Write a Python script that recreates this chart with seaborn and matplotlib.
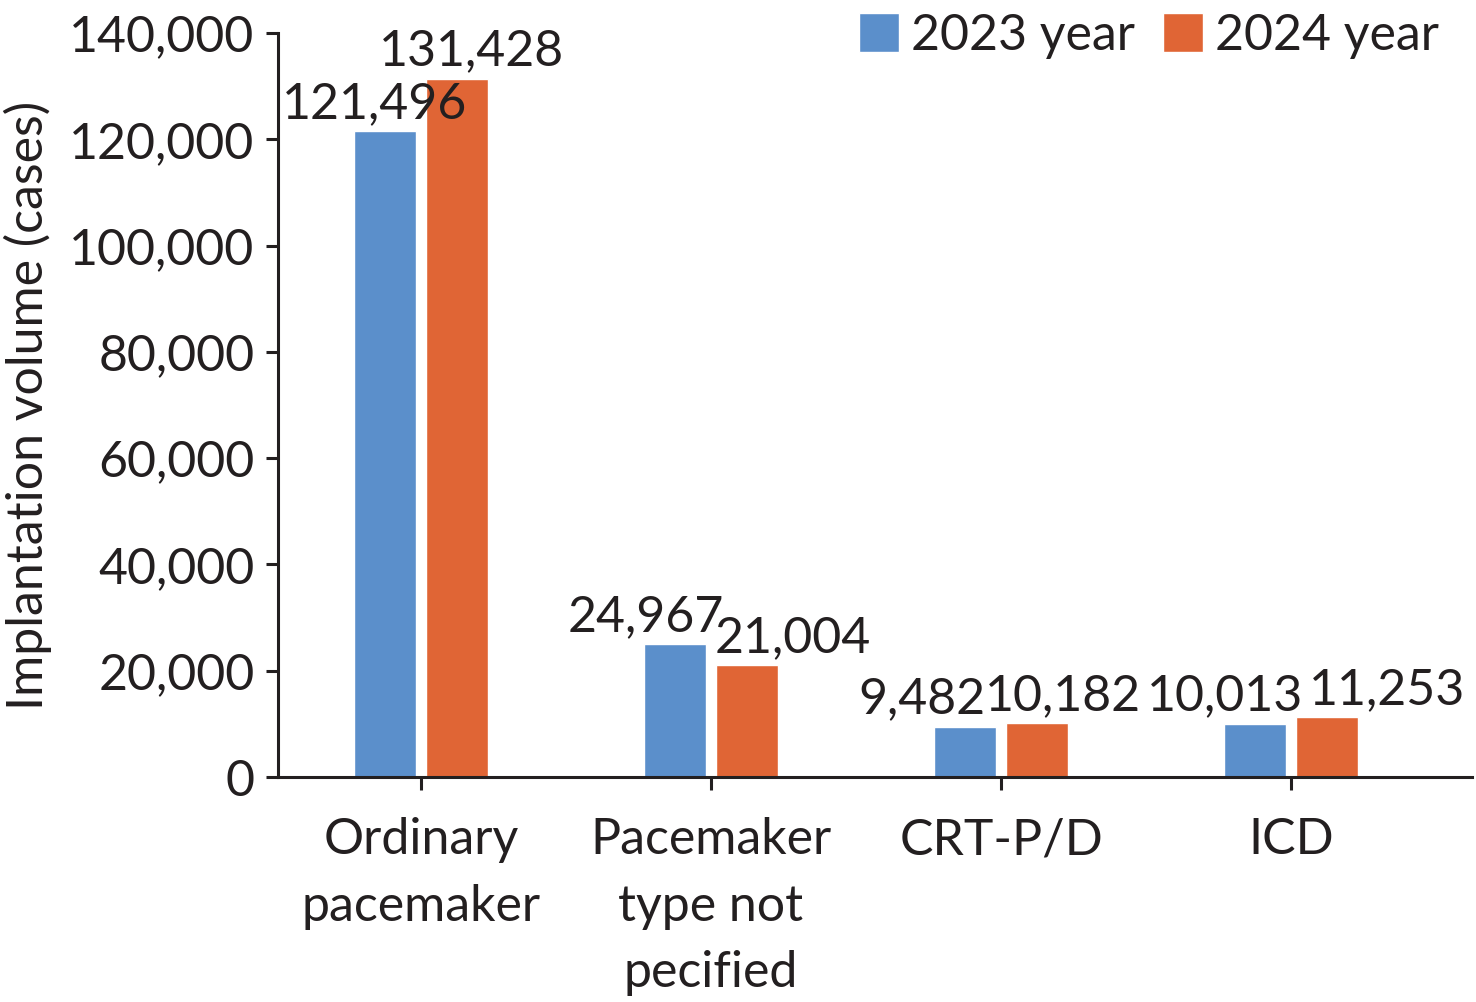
import matplotlib
matplotlib.use("Agg")
import matplotlib.pyplot as plt
import seaborn as sns
import pandas as pd

categories = ["Ordinary\npacemaker", "Pacemaker\ntype not\npecified", "CRT-P/D", "ICD"]
years = ["2023 year", "2024 year"]
values_2023 = [121496, 24967, 9482, 10013]
values_2024 = [131428, 21004, 10182, 11253]
yticks = [0, 20000, 40000, 60000, 80000, 100000, 120000, 140000]

colors = ["#5B8FCB", "#E06535"]
# label horizontal offsets (pixels) for readability, as in the reference
label_dx = {"2023 year": [-10, -29, -43, -30], "2024 year": [14, 46, 26, 60]}

df = pd.DataFrame({
    "category": categories * 2,
    "year": [years[0]] * 4 + [years[1]] * 4,
    "value": values_2023 + values_2024,
})

sns.set_theme(style="ticks")
plt.rcParams["font.family"] = ["Lato", "DejaVu Sans"]
FS = 36

fig = plt.figure(figsize=(14.76, 10.02), dpi=100)
ax = fig.add_axes([278 / 1476, 1 - 777 / 1002, (1472 - 278) / 1476, (777 - 33) / 1002])

sns.barplot(data=df, x="category", y="value", hue="year", palette=colors,
            width=0.497, gap=0.137, ax=ax, saturation=1, errorbar=None)

ax.set_ylim(0, 140000)
ax.set_xlim(-0.493, 3.624)
ax.set_yticks(yticks)
ax.set_yticklabels([f"{v:,}" for v in yticks], fontsize=FS, color="#231F20")
ax.set_xticks(range(len(categories)))
ax.set_xticklabels(categories, fontsize=FS, color="#231F20", linespacing=1.55, va="top")
ax.set_xlabel("")
ax.set_ylabel("Implantation volume (cases)", fontsize=FS, color="#231F20", labelpad=12)

for s in ["top", "right"]:
    ax.spines[s].set_visible(False)
for s in ["left", "bottom"]:
    ax.spines[s].set_color("#231F20")
    ax.spines[s].set_linewidth(2.2)
ax.tick_params(axis="both", direction="out", length=9, width=2.2, color="#231F20")
ax.tick_params(axis="x", pad=20)
ax.tick_params(axis="y", pad=8)

# data labels
for container, yr in zip(ax.containers, years):
    for bar, dx in zip(container, label_dx[yr]):
        h = bar.get_height()
        ax.annotate(f"{int(h):,}", xy=(bar.get_x() + bar.get_width() / 2, h),
                    xytext=(dx * 0.72, 3), textcoords="offset points",
                    ha="center", va="bottom", fontsize=FS, color="#231F20")

handles, labels = ax.get_legend_handles_labels()
ax.legend(handles, labels, loc="upper right", bbox_to_anchor=(1464 / 1476, 1.012),
          bbox_transform=fig.transFigure, ncol=2, frameon=False, fontsize=FS,
          handlelength=0.8, handleheight=0.8, handletextpad=0.25,
          columnspacing=0.55, borderaxespad=0.1, labelcolor="#231F20")

fig.savefig("out.png", dpi=100)
